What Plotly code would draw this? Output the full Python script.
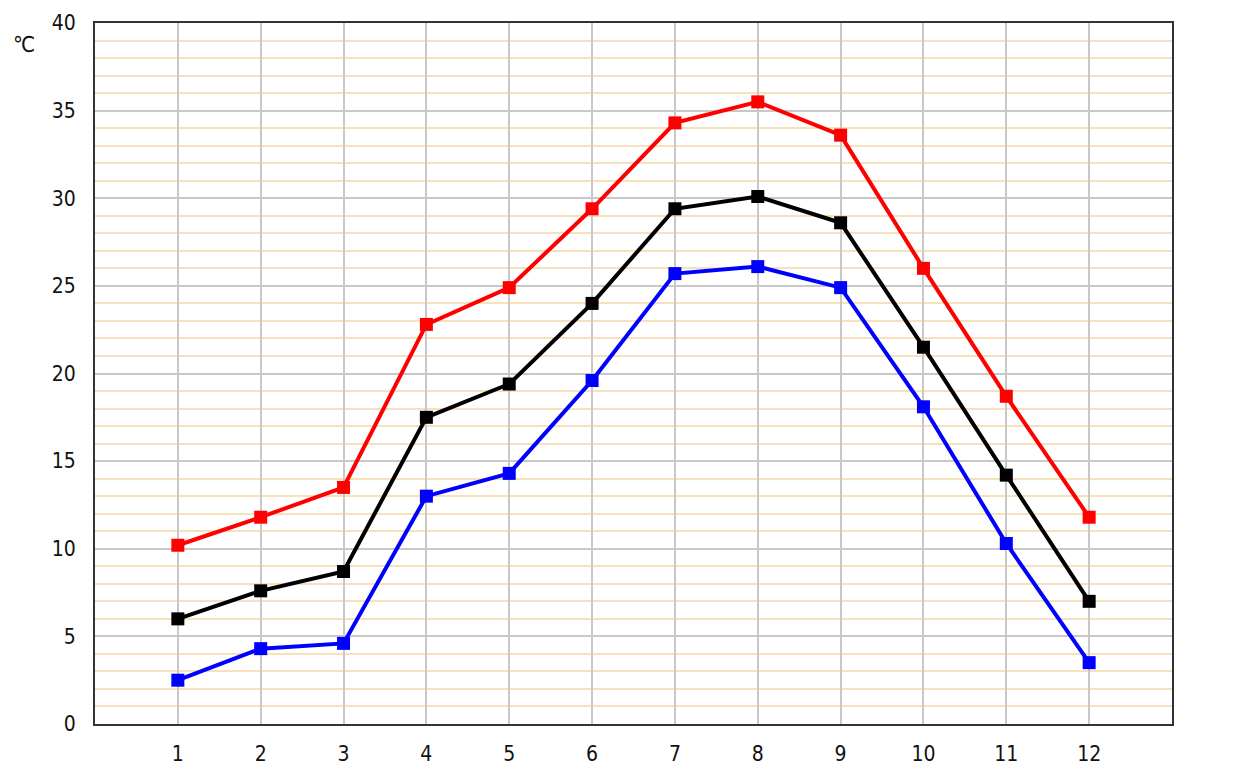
import plotly.graph_objects as go

months = [1, 2, 3, 4, 5, 6, 7, 8, 9, 10, 11, 12]
temp_max = [10.2, 11.8, 13.5, 22.8, 24.9, 29.4, 34.3, 35.5, 33.6, 26.0, 18.7, 11.8]
temp_avg = [6.0, 7.6, 8.7, 17.5, 19.4, 24.0, 29.4, 30.1, 28.6, 21.5, 14.2, 7.0]
temp_min = [2.5, 4.3, 4.6, 13.0, 14.3, 19.6, 25.7, 26.1, 24.9, 18.1, 10.3, 3.5]

series = [
    (temp_max, "#ff0000"),
    (temp_avg, "#000000"),
    (temp_min, "#0000ff"),
]

fig = go.Figure()
for vals, col in series:
    fig.add_trace(go.Scatter(
        x=months, y=vals, mode="lines+markers",
        line=dict(color=col, width=4),
        marker=dict(symbol="square", size=13, color=col),
        showlegend=False,
    ))

fig.update_layout(
    width=1260, height=768,
    margin=dict(l=87, r=96, t=15, b=52, autoexpand=False),
    paper_bgcolor="white", plot_bgcolor="white",
    font=dict(family="DejaVu Sans Condensed", size=21, color="#111111"),
)
fig.update_xaxes(
    range=[0, 13], tickvals=months, ticks="", automargin=False,
    showgrid=True, gridcolor="#c8c8c8", gridwidth=2,
    showline=True, linecolor="#333333", linewidth=2, mirror=True,
    zeroline=False, ticklabelstandoff=10,
)
fig.update_yaxes(
    range=[0, 40], tickvals=list(range(0, 41, 5)), ticks="", automargin=False,
    showgrid=True, gridcolor="#c8c8c8", gridwidth=2,
    minor=dict(dtick=1, showgrid=True, gridcolor="#f7e0bc", gridwidth=2),
    showline=True, linecolor="#333333", linewidth=2, mirror=True,
    zeroline=False, ticklabelstandoff=13,
)
fig.add_annotation(
    text="℃", xref="paper", yref="paper", x=-0.066, y=0.99,
    showarrow=False, font=dict(size=22, color="#111111"), xanchor="center",
)

fig.write_html("out.html")
